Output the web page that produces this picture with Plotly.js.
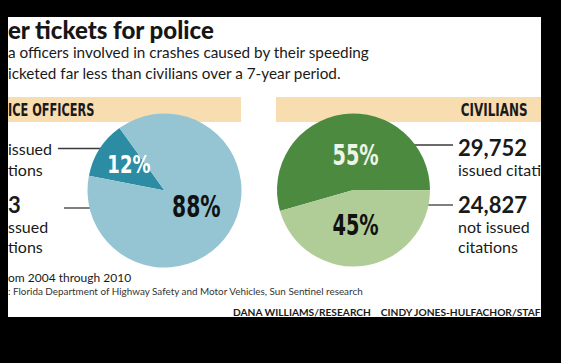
<!DOCTYPE html>
<html><head><meta charset="utf-8">
<script src="https://cdn.plot.ly/plotly-3.0.1.min.js"></script>
<style>
html,body{margin:0;padding:0;background:#000;width:561px;height:363px;overflow:hidden}
#chart{position:absolute;left:8px;top:17px;width:533px;height:300px}
</style></head><body><div id="chart"></div>
<script>
// ---- data ----
const policeLabels = ['Issued citations', 'Not issued citations'];
const policeValues = [12, 88];
const civilianLabels = ['Issued citations', 'Not issued citations'];
const civilianValues = [29752, 24827];
const policeColors = ['#2b8ca4', '#95c5d3'];
const civilianColors = ['#4b8a3f', '#b0cd98'];

// ---- helpers (image pixel -> paper) ----
const W = 533, H = 300, OX = 8, OY = 17;
const PX = x => (x - OX) / W;
const PY = y => 1 - (y - OY) / H;
const sans = 'Lato, "Open Sans", sans-serif';
const narrow = '"DejaVu Sans Condensed", "DejaVu Sans", sans-serif';
const ink = '#1a1a1a';

function ann(text, x, y, size, extra) {
  return Object.assign({
    text: text, x: PX(x), y: PY(y), xref: 'paper', yref: 'paper',
    showarrow: false, xanchor: 'left', yanchor: 'middle', align: 'left',
    font: {family: sans, size: size, color: ink}
  }, extra || {});
}
const fmt = v => v.toLocaleString('en-US');
const pct = (arr, i) => Math.round(arr[i] / arr.reduce((a, b) => a + b, 0) * 100) + '%';

const traces = [
  {
    type: 'pie', labels: policeLabels, values: policeValues, sort: false,
    direction: 'clockwise', rotation: -79,
    domain: {x: [PX(87.5), PX(241.5)], y: [PY(267.5), PY(113.5)]},
    marker: {colors: policeColors, line: {width: 0}},
    textinfo: 'none', hoverinfo: 'none', showlegend: false
  },
  {
    type: 'pie', labels: civilianLabels, values: civilianValues, sort: false,
    direction: 'clockwise', rotation: -106,
    domain: {x: [PX(277), PX(430)], y: [PY(266.5), PY(113.5)]},
    marker: {colors: civilianColors, line: {width: 0}},
    textinfo: 'none', hoverinfo: 'none', showlegend: false
  }
];

const lineStyle = {color: '#3a3a3a', width: 1.3};
const shapes = [
  {type: 'rect', xref: 'paper', yref: 'paper', layer: 'below', x0: PX(8), x1: PX(241), y0: PY(122), y1: PY(97), fillcolor: '#f8ddb1', line: {width: 0}},
  {type: 'rect', xref: 'paper', yref: 'paper', layer: 'below', x0: PX(276), x1: PX(541), y0: PY(122), y1: PY(97), fillcolor: '#f8ddb1', line: {width: 0}},
  {type: 'line', xref: 'paper', yref: 'paper', layer: 'below', x0: PX(58), x1: PX(101), y0: PY(148.5), y1: PY(148.5), line: lineStyle},
  {type: 'line', xref: 'paper', yref: 'paper', layer: 'below', x0: PX(64), x1: PX(91), y0: PY(208), y1: PY(208), line: lineStyle},
  {type: 'line', xref: 'paper', yref: 'paper', layer: 'below', x0: PX(414), x1: PX(453), y0: PY(145), y1: PY(145), line: lineStyle},
  {type: 'line', xref: 'paper', yref: 'paper', layer: 'below', x0: PX(427), x1: PX(453), y0: PY(205), y1: PY(205), line: lineStyle}
];

const pctFont = (size, color) => ({family: narrow, size: size, color: color, weight: 'bold'});
const centered = {xanchor: 'center', align: 'center'};
const annotations = [
  ann('a officers involved in crashes caused by their speeding', 6, 52.5, 15.3),
  ann('icketed far less than civilians over a 7-year period.', 6, 72.5, 15.3),
  ann('ICE OFFICERS', 6, 109.5, 17, {font: {family: narrow, size: 17, color: ink, weight: 'bold'}}),
  ann('CIVILIANS', 530, 109.5, 17, {xanchor: 'right', align: 'right', font: {family: narrow, size: 17, color: ink, weight: 'bold'}}),
  ann(pct(policeValues, 0), 128.5, 164.5, 25, Object.assign({font: pctFont(25, '#ffffff')}, centered)),
  ann(pct(policeValues, 1), 196, 206, 30, Object.assign({font: pctFont(30, '#111111')}, centered)),
  ann(pct(civilianValues, 0), 355, 155, 27.5, Object.assign({font: pctFont(27.5, '#eef4e6')}, centered)),
  ann(pct(civilianValues, 1), 355, 225, 27.5, Object.assign({font: pctFont(27.5, '#111111')}, centered)),
  ann('issued', 6, 149, 16),
  ann('tions', 6, 169, 16),
  ann('3', 6, 204, 22, {font: {family: sans, size: 22, color: ink, weight: 'bold'}}),
  ann('ssued', 6, 226, 16),
  ann('tions', 6, 246, 16),
  ann(fmt(civilianValues[0]), 456, 147, 22, {font: {family: sans, size: 22, color: ink, weight: 'bold'}}),
  ann('issued citations', 456, 169, 16),
  ann(fmt(civilianValues[1]), 456, 204, 22, {font: {family: sans, size: 22, color: ink, weight: 'bold'}}),
  ann('not issued', 456, 226, 16),
  ann('citations', 456, 246, 16),
  ann('om 2004 through 2010', 6, 277.5, 12),
  ann(': Florida Department of Highway Safety and Motor Vehicles, Sun Sentinel research', 6, 290.5, 9.9, {font: {family: sans, size: 9.9, color: '#333333'}}),
  ann('DANA WILLIAMS/RESEARCH\u00a0\u00a0\u00a0\u00a0CINDY JONES-HULFACHOR/STAF', 543, 312, 10.2, {xanchor: 'right', align: 'right', font: {family: sans, size: 10.2, color: ink, weight: 'bold'}})
];

// horizontal squeeze for the condensed display type
const squeeze = {'ICE OFFICERS': 0.74, 'CIVILIANS': 0.78, '12%': 0.8, '88%': 0.75, '55%': 0.78, '45%': 0.78};

const layout = {
  width: W, height: H,
  margin: {l: 0, r: 0, t: 0, b: 0},
  paper_bgcolor: '#ffffff', plot_bgcolor: '#ffffff',
  title: {
    text: 'er tickets for police', x: 0, xref: 'paper', xanchor: 'left',
    y: PY(30.5), yref: 'paper', yanchor: 'middle', pad: {t: 0, b: 0, l: 0, r: 0},
    font: {family: sans, size: 24, color: '#161616', weight: 900}
  },
  shapes: shapes,
  annotations: annotations
};

Plotly.newPlot('chart', traces, layout, {staticPlot: true, displayModeBar: false}).then(function (gd) {
  gd.querySelectorAll('text.annotation-text').forEach(function (t) {
    const f = squeeze[t.textContent];
    if (f) {
      t.setAttribute('textLength', (t.getComputedTextLength() * f).toFixed(1));
      t.setAttribute('lengthAdjust', 'spacingAndGlyphs');
    }
  });
});
</script></body></html>
